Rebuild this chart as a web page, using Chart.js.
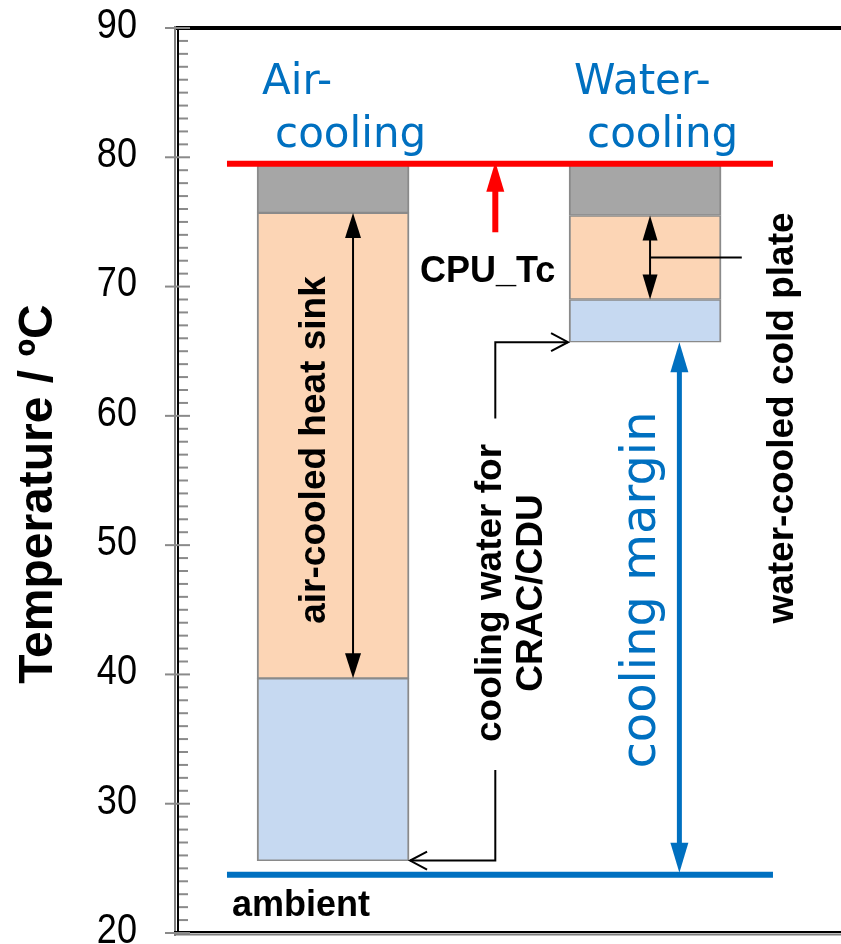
<!DOCTYPE html>
<html>
<head>
<meta charset="utf-8">
<script src="https://cdn.jsdelivr.net/npm/chart.js@4.4.1/dist/chart.umd.min.js"></script>
<style>
  html, body { margin: 0; padding: 0; background: #fff; }
  #chart { display: block; }
</style>
</head>
<body>
<canvas id="chart" width="841" height="944"></canvas>
<script>
// values, in °C
const categories = ["Air-cooling", "Water-cooling"];
const barX = [1, 2];
const coolantLow = [25.6, 65.7];    // cooling air / cooling water
const coolantHigh = [39.7, 69.0];
const coolerHigh = [75.7, 75.5];    // heat sink / cold plate
const caseHigh = [79.5, 79.5];
const cpuTc = 79.5;
const ambient = 24.5;
const limitSpan = [0.66, 2.41];     // x extent of the CPU_Tc and ambient lines
const yRange = [20, 90];
const yStep = 10;

const BLUE = "#0070C0";
const BORDER = "#8A8A8A";
const BAR_W = 152;

function floating(low, high) {
  return barX.map((x, i) => ({ x: x, y: [low[i], high[i]] }));
}
function flat(v) {
  return limitSpan.map(x => ({ x: x, y: v }));
}

// =========================
// helpers for the drawn notes
// =========================
function arrowHead(ctx, x, y, dir, w, len, color) {
  // dir: -1 points up, 1 points down
  ctx.beginPath();
  ctx.moveTo(x, y);
  ctx.lineTo(x - w / 2, y - dir * len);
  ctx.lineTo(x + w / 2, y - dir * len);
  ctx.closePath();
  ctx.fillStyle = color;
  ctx.fill();
}
function vline(ctx, x, y1, y2, w, color) {
  ctx.beginPath();
  ctx.moveTo(x, y1);
  ctx.lineTo(x, y2);
  ctx.lineWidth = w;
  ctx.strokeStyle = color;
  ctx.stroke();
}
function chevron(ctx, x, y, dir) {
  // open arrow tip at (x,y), dir 1 points right, -1 points left
  ctx.beginPath();
  ctx.moveTo(x - dir * 17, y - 9);
  ctx.lineTo(x, y);
  ctx.lineTo(x - dir * 17, y + 9);
  ctx.lineWidth = 2;
  ctx.strokeStyle = "#000";
  ctx.stroke();
}
function rotText(ctx, text, x, y, font, color) {
  ctx.save();
  ctx.translate(x, y);
  ctx.rotate(-Math.PI / 2);
  ctx.font = font;
  ctx.fillStyle = color;
  ctx.textAlign = "center";
  ctx.textBaseline = "alphabetic";
  ctx.fillText(text, 0, 0);
  ctx.restore();
}

const notes = {
  id: "notes",
  afterDraw(chart) {
    const ctx = chart.ctx;
    const xs = chart.scales.x, ys = chart.scales.y;
    const px = v => xs.getPixelForValue(v);
    const py = v => ys.getPixelForValue(v);
    const area = chart.chartArea;
    const bold = '"Liberation Sans", Arial, sans-serif';

    ctx.save();

    // frame
    ctx.lineCap = "butt";
    ctx.beginPath();
    ctx.moveTo(area.left - 3, area.top);
    ctx.lineTo(chart.width, area.top);
    ctx.lineWidth = 4;
    ctx.strokeStyle = "#000";
    ctx.stroke();
    vline(ctx, area.left - 3, area.top - 2, area.bottom + 3, 2, "#7f7f7f");
    vline(ctx, area.left, area.top, area.bottom, 2, "#000");
    ctx.beginPath();
    ctx.moveTo(area.left - 4, area.bottom - 1);
    ctx.lineTo(chart.width, area.bottom - 1);
    ctx.lineWidth = 2;
    ctx.strokeStyle = "#000";
    ctx.stroke();
    ctx.beginPath();
    ctx.moveTo(area.left - 4, area.bottom + 1.5);
    ctx.lineTo(chart.width, area.bottom + 1.5);
    ctx.lineWidth = 2;
    ctx.strokeStyle = "#7f7f7f";
    ctx.stroke();

    // major and minor ticks
    for (let v = yRange[0]; v <= yRange[1]; v++) {
      const y = py(v);
      ctx.beginPath();
      if (v % yStep === 0) {
        ctx.moveTo(area.left - 13, y);
        ctx.lineTo(area.left + 12, y);
      } else {
        ctx.moveTo(area.left + 1, y);
        ctx.lineTo(area.left + 10, y);
      }
      ctx.lineWidth = 2;
      ctx.strokeStyle = "#8a8a8a";
      ctx.stroke();
    }

    // tick labels, narrow like the original
    ctx.font = '43px "Liberation Sans", Arial, sans-serif';
    ctx.fillStyle = "#000";
    ctx.textAlign = "right";
    ctx.textBaseline = "middle";
    ys.ticks.forEach(t => {
      ctx.save();
      ctx.translate(area.left - 41, py(t.value) - 2);
      ctx.scale(0.84, 1);
      ctx.fillText(String(t.value), 0, 0);
      ctx.restore();
    });

    // red CPU_Tc arrow
    const rx = px(1.52);
    vline(ctx, rx, py(74.2), py(cpuTc) + 26, 6, "#FF0000");
    arrowHead(ctx, rx, py(cpuTc) - 2, -1, 18, 30, "#FF0000");

    // air-cooled heat sink span
    const hx = px(1.064);
    vline(ctx, hx, py(coolerHigh[0]) + 20, py(coolantHigh[0]) - 20, 2, "#000");
    arrowHead(ctx, hx, py(coolerHigh[0]), -1, 16, 25, "#000");
    arrowHead(ctx, hx, py(coolantHigh[0]), 1, 16, 25, "#000");

    // water-cooled cold plate span
    const cx = px(2.016);
    vline(ctx, cx, py(coolerHigh[1]) + 20, py(coolantHigh[1]) - 20, 2, "#000");
    arrowHead(ctx, cx, py(coolerHigh[1]), -1, 15, 25, "#000");
    arrowHead(ctx, cx, py(coolantHigh[1]), 1, 15, 25, "#000");
    const midY = py((coolerHigh[1] + coolantHigh[1]) / 2);
    ctx.beginPath();
    ctx.moveTo(cx, midY);
    ctx.lineTo(px(2.31), midY);
    ctx.lineWidth = 2;
    ctx.strokeStyle = "#000";
    ctx.stroke();

    // cooling water connectors
    const wx = px(1.52);
    const wLeft = px(barX[1]) - BAR_W / 2, aRight = px(barX[0]) + BAR_W / 2;
    ctx.beginPath();
    ctx.moveTo(wx, py(59.8));
    ctx.lineTo(wx, py(coolantLow[1]));
    ctx.lineTo(wLeft - 1, py(coolantLow[1]));
    ctx.moveTo(wx, py(32.6));
    ctx.lineTo(wx, py(coolantLow[0]));
    ctx.lineTo(aRight + 1, py(coolantLow[0]));
    ctx.lineWidth = 2;
    ctx.strokeStyle = "#000";
    ctx.stroke();
    chevron(ctx, wLeft - 1, py(coolantLow[1]), 1);
    chevron(ctx, aRight + 1, py(coolantLow[0]), -1);

    // cooling margin
    const mx = px(2.11);
    vline(ctx, mx, py(coolantLow[1]) + 28, py(ambient) - 28, 5, BLUE);
    arrowHead(ctx, mx, py(coolantLow[1]), -1, 18, 30, BLUE);
    arrowHead(ctx, mx, py(ambient) - 2, 1, 18, 30, BLUE);

    // column titles
    ctx.font = '42px "DejaVu Sans", sans-serif';
    ctx.fillStyle = BLUE;
    ctx.textAlign = "left";
    ctx.textBaseline = "alphabetic";
    categories.forEach((c, i) => {
      const parts = c.split("-");
      const left = px(barX[i]) - BAR_W / 2;
      ctx.fillText(parts[0] + "-", left + 5, 94);
      ctx.fillText(parts[1].toLowerCase(), left + 18, 147);
    });

    // black labels
    ctx.fillStyle = "#000";
    ctx.font = "bold 36px " + bold;
    ctx.fillText("CPU_Tc", 420, 282);
    ctx.fillText("ambient", 232, 916);

    rotText(ctx, "air-cooled heat sink", 325, 450, "bold 37px " + bold, "#000");
    rotText(ctx, "cooling water for", 501, 593, "bold 37px " + bold, "#000");
    rotText(ctx, "CRAC/CDU", 542, 593, "bold 37px " + bold, "#000");
    rotText(ctx, "water-cooled cold plate", 793, 418, "bold 37px " + bold, "#000");
    rotText(ctx, "cooling margin", 655, 590, '48px "DejaVu Sans", sans-serif', BLUE);
    rotText(ctx, "Temperature / ºC", 52, 494, "bold 48px " + bold, "#000");

    ctx.restore();
  }
};

new Chart(document.getElementById("chart"), {
  type: "bar",
  data: {
    datasets: [
      {
        type: "line", label: "CPU_Tc", data: flat(cpuTc),
        borderColor: "#FF0000", borderWidth: 6, pointRadius: 0, order: 0
      },
      {
        type: "line", label: "ambient", data: flat(ambient),
        borderColor: BLUE, borderWidth: 6, pointRadius: 0, order: 0
      },
      {
        label: "coolant", data: floating(coolantLow, coolantHigh),
        backgroundColor: "#C6D9F1", order: 1
      },
      {
        label: "cooler", data: floating(coolantHigh, coolerHigh),
        backgroundColor: "#FCD5B5", order: 1
      },
      {
        label: "case", data: floating(coolerHigh, caseHigh),
        backgroundColor: "#A6A6A6", order: 1
      }
    ]
  },
  options: {
    responsive: false,
    animation: false,
    layout: { padding: { top: 28, bottom: 11, left: 0, right: 0 } },
    datasets: {
      bar: {
        grouped: false,
        barThickness: BAR_W,
        borderColor: BORDER,
        borderWidth: { left: 2, right: 2, top: 1.5, bottom: 1.5 },
        borderSkipped: false
      }
    },
    plugins: { legend: { display: false }, tooltip: { enabled: false } },
    scales: {
      x: { type: "linear", min: 0.503, max: 2.628, offset: false, display: false },
      y: {
        min: yRange[0], max: yRange[1],
        grid: { display: false, drawTicks: false },
        border: { display: false },
        ticks: { stepSize: yStep, display: false },
        afterFit(scale) {
          scale.width = 178;
          scale.paddingTop = 0;
          scale.paddingBottom = 0;
        }
      }
    }
  },
  plugins: [notes]
});
</script>
</body>
</html>
